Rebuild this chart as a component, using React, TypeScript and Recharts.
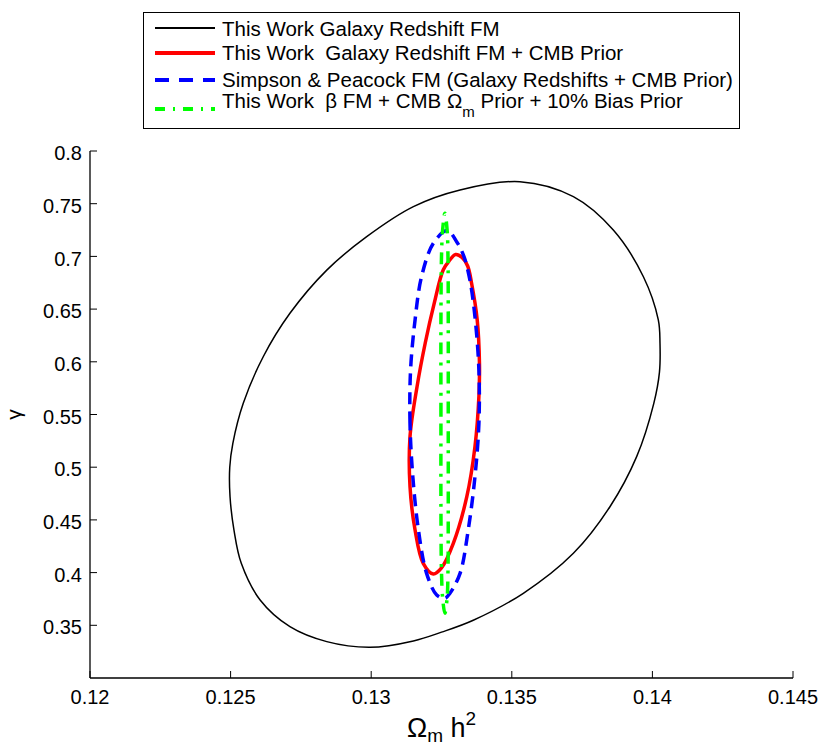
import React from "react";
import { LineChart, Line, XAxis, YAxis, Legend } from "recharts";

// axes
const xTicks = [0.12, 0.125, 0.13, 0.135, 0.14, 0.145];
const yTicks = [0.35, 0.4, 0.45, 0.5, 0.55, 0.6, 0.65, 0.7, 0.75, 0.8];

// contour points (Omega_m h^2, gamma)
const galaxyFM = [
  { x: 0.12711, y: 0.646 },
  { x: 0.12842, y: 0.687 },
  { x: 0.12984, y: 0.7187 },
  { x: 0.1315, y: 0.7472 },
  { x: 0.13316, y: 0.763 },
  { x: 0.13529, y: 0.7709 },
  { x: 0.13719, y: 0.7567 },
  { x: 0.13861, y: 0.725 },
  { x: 0.13968, y: 0.6807 },
  { x: 0.14021, y: 0.6397 },
  { x: 0.14027, y: 0.6176 },
  { x: 0.14025, y: 0.59 },
  { x: 0.14005, y: 0.5606 },
  { x: 0.13944, y: 0.51 },
  { x: 0.13849, y: 0.4625 },
  { x: 0.13719, y: 0.4183 },
  { x: 0.13541, y: 0.3804 },
  { x: 0.13363, y: 0.3548 },
  { x: 0.1325, y: 0.3435 },
  { x: 0.1315, y: 0.3352 },
  { x: 0.12996, y: 0.3291 },
  { x: 0.12842, y: 0.3345 },
  { x: 0.12711, y: 0.3487 },
  { x: 0.12605, y: 0.374 },
  { x: 0.12538, y: 0.4088 },
  { x: 0.12512, y: 0.4404 },
  { x: 0.12498, y: 0.472 },
  { x: 0.12497, y: 0.5 },
  { x: 0.12508, y: 0.5227 },
  { x: 0.12545, y: 0.5606 },
  { x: 0.12616, y: 0.6048 },
];

const galaxyCMB = [
  { x: 0.13138, y: 0.5289 },
  { x: 0.13163, y: 0.5764 },
  { x: 0.13192, y: 0.6176 },
  { x: 0.13224, y: 0.6555 },
  { x: 0.13256, y: 0.6871 },
  { x: 0.13278, y: 0.6961 },
  { x: 0.133, y: 0.7018 },
  { x: 0.13323, y: 0.699 },
  { x: 0.13343, y: 0.6909 },
  { x: 0.13357, y: 0.6745 },
  { x: 0.13377, y: 0.6397 },
  { x: 0.13385, y: 0.5986 },
  { x: 0.13383, y: 0.5669 },
  { x: 0.13369, y: 0.5195 },
  { x: 0.1334, y: 0.472 },
  { x: 0.13292, y: 0.4278 },
  { x: 0.1325, y: 0.4045 },
  { x: 0.13221, y: 0.3987 },
  { x: 0.13185, y: 0.4088 },
  { x: 0.13156, y: 0.4404 },
  { x: 0.13138, y: 0.4815 },
];

const simpsonPeacock = [
  { x: 0.13138, y: 0.5416 },
  { x: 0.1314, y: 0.5922 },
  { x: 0.13156, y: 0.6397 },
  { x: 0.13179, y: 0.6807 },
  { x: 0.13221, y: 0.7124 },
  { x: 0.1327, y: 0.7245 },
  { x: 0.13305, y: 0.7135 },
  { x: 0.1333, y: 0.6997 },
  { x: 0.13351, y: 0.6776 },
  { x: 0.13369, y: 0.6428 },
  { x: 0.13383, y: 0.5922 },
  { x: 0.13383, y: 0.5416 },
  { x: 0.13369, y: 0.491 },
  { x: 0.13345, y: 0.4404 },
  { x: 0.13316, y: 0.3993 },
  { x: 0.1328, y: 0.3804 },
  { x: 0.13262, y: 0.3756 },
  { x: 0.13233, y: 0.3788 },
  { x: 0.13197, y: 0.3993 },
  { x: 0.13168, y: 0.4404 },
  { x: 0.13148, y: 0.491 },
];

const betaFM = [
  { x: 0.13248, y: 0.55 },
  { x: 0.13248, y: 0.64 },
  { x: 0.1325, y: 0.7 },
  { x: 0.13254, y: 0.725 },
  { x: 0.13262, y: 0.741 },
  { x: 0.1327, y: 0.725 },
  { x: 0.13273, y: 0.7 },
  { x: 0.13274, y: 0.64 },
  { x: 0.13274, y: 0.55 },
  { x: 0.13274, y: 0.46 },
  { x: 0.13273, y: 0.4 },
  { x: 0.1327, y: 0.376 },
  { x: 0.13262, y: 0.3614 },
  { x: 0.13254, y: 0.376 },
  { x: 0.1325, y: 0.4 },
  { x: 0.13248, y: 0.46 },
];

const seriesNames = [
  "This Work Galaxy Redshift FM",
  "This Work  Galaxy Redshift FM + CMB Prior",
  "Simpson & Peacock FM (Galaxy Redshifts + CMB Prior)",
  "This Work  β FM + CMB Ω_m Prior + 10% Bias Prior",
];

const FONT = '"Liberation Sans", Arial, Helvetica, sans-serif';
const colors = ["#000000", "#ff0000", "#0000ff", "#00ff00"];
const widths = [1.5, 3.5, 3.5, 3.5];
const dashes = [undefined, undefined, "12 7", "12 7 3 8"];
const legendDashes = [undefined, undefined, "14 10", "10 8 2 8"];

// legend rows, relative to the box
const lineRows = [15, 40, 67, 96];
const textRows = [15.5, 40, 67, 87.5];

// closed centripetal catmull-rom so the contours come out as smooth loops
function closedCurve(context: any) {
  let pts: number[][] = [];
  return {
    areaStart() {},
    areaEnd() {},
    lineStart() {
      pts = [];
    },
    point(x: number, y: number) {
      pts.push([+x, +y]);
    },
    lineEnd() {
      const n = pts.length;
      if (!n) return;
      context.moveTo(pts[0][0], pts[0][1]);
      for (let i = 0; i < n; i++) {
        const p0 = pts[(i - 1 + n) % n];
        const p1 = pts[i];
        const p2 = pts[(i + 1) % n];
        const p3 = pts[(i + 2) % n];
        const d01 = Math.hypot(p1[0] - p0[0], p1[1] - p0[1]);
        const d12 = Math.hypot(p2[0] - p1[0], p2[1] - p1[1]);
        const d23 = Math.hypot(p3[0] - p2[0], p3[1] - p2[1]);
        const l01 = Math.sqrt(d01);
        const l12 = Math.sqrt(d12);
        const l23 = Math.sqrt(d23);
        let c1 = [p1[0], p1[1]];
        let c2 = [p2[0], p2[1]];
        if (l01 > 1e-9) {
          const a = 2 * d01 + 3 * l01 * l12 + d12;
          const m = 3 * l01 * (l01 + l12);
          c1 = [0, 1].map((k) => (p1[k] * a - p0[k] * d12 + p2[k] * d01) / m);
        }
        if (l23 > 1e-9) {
          const b = 2 * d23 + 3 * l23 * l12 + d12;
          const m = 3 * l23 * (l23 + l12);
          c2 = [0, 1].map((k) => (p2[k] * b + p1[k] * d23 - p3[k] * d12) / m);
        }
        context.bezierCurveTo(c1[0], c1[1], c2[0], c2[1], p2[0], p2[1]);
      }
      context.closePath();
    },
  };
}

function renderName(name: string) {
  const parts = name.split("Ω_m");
  if (parts.length === 1) return name;
  return (
    <>
      {parts[0]}Ω
      <span style={{ fontSize: 15, position: "relative", top: 9 }}>m</span>
      {parts[1]}
    </>
  );
}

const LegendBox = () => (
  <div
    style={{
      position: "relative",
      width: 597,
      height: 117,
      boxSizing: "border-box",
      border: "1.3px solid #000",
      background: "#fff",
      fontFamily: FONT,
      fontSize: 20.5,
      color: "#000",
    }}
  >
    {seriesNames.map((name, i) => (
      <React.Fragment key={name}>
        <svg
          width={62}
          height={10}
          style={{ position: "absolute", left: 11, top: lineRows[i] - 5 }}
        >
          <line
            x1={0}
            y1={5}
            x2={60}
            y2={5}
            stroke={colors[i]}
            strokeWidth={widths[i] + 0.5}
            strokeDasharray={legendDashes[i]}
          />
        </svg>
        <div
          style={{
            position: "absolute",
            left: 78,
            top: textRows[i] - 10,
            lineHeight: "20px",
            whiteSpace: "pre",
          }}
        >
          {renderName(name)}
        </div>
      </React.Fragment>
    ))}
  </div>
);

const XLabel = ({ viewBox }: any) => {
  const cx = viewBox.x + viewBox.width / 2;
  return (
    <text
      x={cx}
      y={viewBox.y + 59}
      textAnchor="middle"
      fontSize={27}
      fontFamily={FONT}
      fill="#000"
    >
      Ω
      <tspan fontSize={19} dy={5}>
        m
      </tspan>
      <tspan dy={-5} style={{ whiteSpace: "pre" }}>
        {" h"}
      </tspan>
      <tspan fontSize={19} dy={-12}>
        2
      </tspan>
    </text>
  );
};

const YLabel = ({ viewBox }: any) => {
  const cy = viewBox.y + viewBox.height / 2;
  return (
    <g transform={`translate(21, ${cy}) rotate(-90)`}>
      <text x={0} y={0} textAnchor="middle" fontSize={21} fontFamily={FONT} fill="#000">
        γ
      </text>
    </g>
  );
};

const tickStyle = { fill: "#000", fontSize: 20, fontFamily: FONT };
const axisLine = { stroke: "#000", strokeWidth: 1.3 };
const tickLine = { stroke: "#000", strokeWidth: 1 };

export default function App() {
  const series = [galaxyFM, galaxyCMB, simpsonPeacock, betaFM];
  return (
    <div
      style={{
        position: "absolute",
        left: 0,
        top: 0,
        width: 821,
        height: 745,
        background: "#fff",
        fontFamily: FONT,
      }}
    >
      <LineChart
        width={821}
        height={745}
        margin={{ top: 151, right: 28, bottom: 27, left: 0 }}
      >
        <XAxis
          type="number"
          dataKey="x"
          domain={[0.12, 0.145]}
          ticks={xTicks}
          allowDataOverflow
          height={40}
          tickSize={-7}
          tickMargin={19}
          tick={tickStyle}
          axisLine={axisLine}
          tickLine={tickLine}
          tickFormatter={(v: number) => String(v)}
          label={<XLabel />}
        />
        <XAxis
          xAxisId="top"
          orientation="top"
          type="number"
          dataKey="x"
          domain={[0.12, 0.145]}
          ticks={xTicks}
          allowDataOverflow
          height={0}
          tickSize={-7}
          tick={false}
          axisLine={axisLine}
          tickLine={tickLine}
        />
        <YAxis
          type="number"
          domain={[0.3, 0.8]}
          ticks={yTicks}
          allowDataOverflow
          width={90}
          tickSize={-7}
          tickMargin={15}
          tick={{ ...tickStyle, dy: 2 }}
          axisLine={axisLine}
          tickLine={tickLine}
          tickFormatter={(v: number) => String(v)}
          label={<YLabel />}
        />
        <YAxis
          yAxisId="right"
          orientation="right"
          type="number"
          domain={[0.3, 0.8]}
          ticks={yTicks}
          allowDataOverflow
          width={0}
          tickSize={-7}
          tick={false}
          axisLine={axisLine}
          tickLine={tickLine}
        />
        <Legend
          layout="vertical"
          align="center"
          verticalAlign="middle"
          content={<LegendBox />}
          wrapperStyle={{ left: 143, top: 12, width: 597, height: 117, margin: 0 }}
        />
        {series.map((d, i) => (
          <Line
            key={seriesNames[i]}
            data={d}
            dataKey="y"
            name={seriesNames[i]}
            type={closedCurve as any}
            stroke={colors[i]}
            strokeWidth={widths[i]}
            strokeDasharray={dashes[i]}
            dot={false}
            activeDot={false}
            isAnimationActive={false}
          />
        ))}
      </LineChart>
    </div>
  );
}
